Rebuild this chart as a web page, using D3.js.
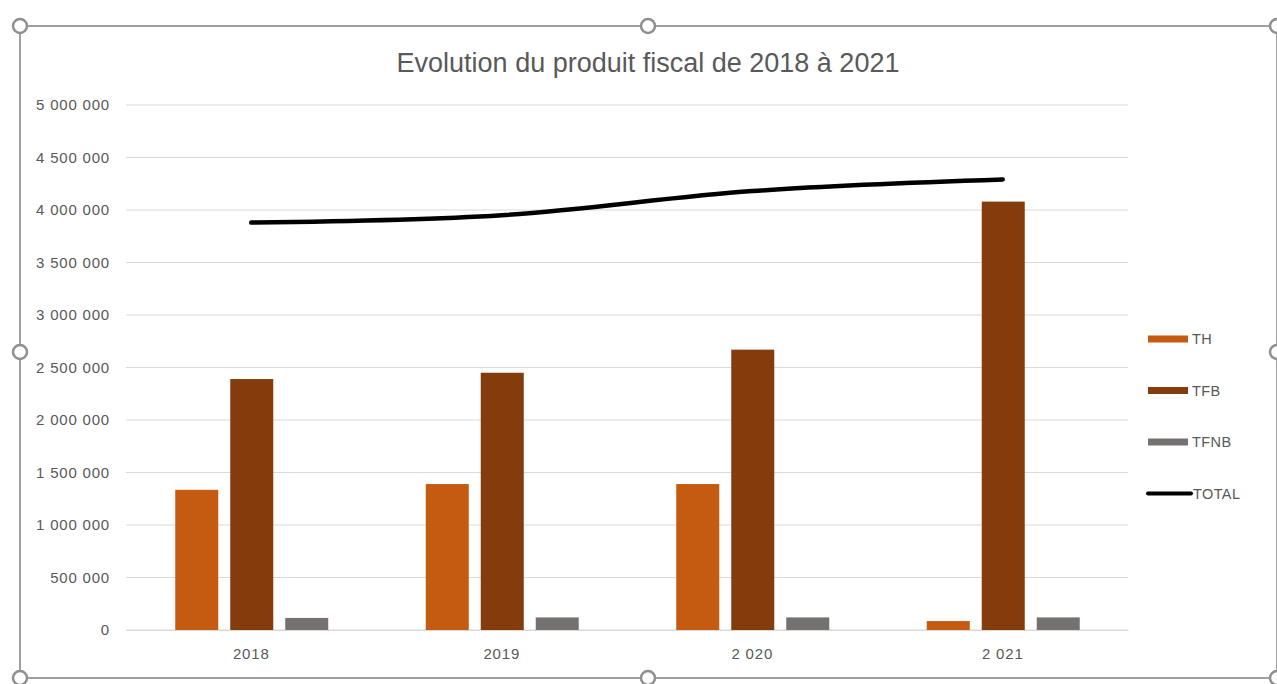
<!DOCTYPE html>
<html>
<head>
<meta charset="utf-8">
<script src="https://cdn.jsdelivr.net/npm/d3@7"></script>
<style>
  html, body { margin: 0; padding: 0; background: #fff; }
  svg { display: block; }
</style>
</head>
<body>
<svg id="chart" width="1277" height="684"></svg>
<script>
// Produit fiscal par année (en euros)
const years = ["2018", "2019", "2 020", "2 021"];
const seriesNames = ["TH", "TFB", "TFNB"];
const thValues = [1335000, 1390000, 1390000, 85000];
const tfbValues = [2390000, 2450000, 2670000, 4080000];
const tfnbValues = [115000, 120000, 120000, 120000];
const totalValues = [3880000, 3950000, 4180000, 4290000];
const yTicks = [0, 500000, 1000000, 1500000, 2000000, 2500000, 3000000, 3500000, 4000000, 4500000, 5000000];

const colors = { TH: "#c55a11", TFB: "#843c0c", TFNB: "#767171", TOTAL: "#000000" };
const textColor = "#595959";
const font = "'Liberation Sans', Arial, sans-serif";

const svg = d3.select("#chart");

// Chart frame with selection handles
const frame = { x0: 20, y0: 26, x1: 1277, y1: 678 };
svg.append("rect")
  .attr("x", frame.x0).attr("y", frame.y0)
  .attr("width", frame.x1 - frame.x0).attr("height", frame.y1 - frame.y0)
  .attr("fill", "#fff").attr("stroke", "#a0a0a0").attr("stroke-width", 2);

const plot = { left: 126, right: 1128, top: 105, bottom: 630 };

const x = d3.scaleBand().domain(years).range([plot.left, plot.right]).padding(0);
const y = d3.scaleLinear().domain([0, 5000000]).range([plot.bottom, plot.top]);
const xi = d3.scaleBand().domain(seriesNames).range([-76, 77]).paddingInner(0.218).paddingOuter(0);

const fmt = v => d3.format(",")(v).replace(/,/g, " ");

// Gridlines
svg.append("g").selectAll("line").data(yTicks).join("line")
  .attr("x1", plot.left).attr("x2", plot.right)
  .attr("y1", d => y(d)).attr("y2", d => y(d))
  .attr("stroke", "#d9d9d9").attr("stroke-width", 1);

// Y axis labels
const yAxis = svg.append("g").attr("transform", `translate(${plot.left - 16},0)`)
  .call(d3.axisLeft(y).tickValues(yTicks).tickFormat(fmt).tickSize(0).tickPadding(0));
yAxis.select(".domain").remove();
yAxis.selectAll("text").attr("fill", textColor).attr("font-size", 15)
  .attr("letter-spacing", 0.8).attr("font-family", font);

// X axis labels
const xAxis = svg.append("g").attr("transform", `translate(0,${plot.bottom})`)
  .call(d3.axisBottom(x).tickSize(0).tickPadding(18));
xAxis.select(".domain").attr("stroke", "#d9d9d9");
xAxis.selectAll("text").attr("fill", textColor).attr("font-size", 15)
  .attr("letter-spacing", 0.8).attr("font-family", font);

// Bars
const seriesData = { TH: thValues, TFB: tfbValues, TFNB: tfnbValues };
const barData = [];
years.forEach((yr, i) => seriesNames.forEach(s => barData.push({ yr, s, v: seriesData[s][i] })));
svg.append("g").selectAll("rect").data(barData).join("rect")
  .attr("x", d => x(d.yr) + x.bandwidth() / 2 + xi(d.s))
  .attr("width", xi.bandwidth())
  .attr("y", d => y(d.v))
  .attr("height", d => y(0) - y(d.v))
  .attr("fill", d => colors[d.s]);

// Total line
const line = d3.line()
  .x((d, i) => x(years[i]) + x.bandwidth() / 2)
  .y(d => y(d))
  .curve(d3.curveCatmullRom.alpha(0.5));
svg.append("path").datum(totalValues)
  .attr("d", line).attr("fill", "none")
  .attr("stroke", colors.TOTAL).attr("stroke-width", 4.5).attr("stroke-linecap", "round");

// Title
svg.append("text")
  .attr("x", 648).attr("y", 72).attr("text-anchor", "middle")
  .attr("fill", textColor).attr("font-size", 27).attr("font-family", font)
  .text("Evolution du produit fiscal de 2018 à 2021");

// Legend
const legendItems = ["TH", "TFB", "TFNB", "TOTAL"];
const legend = svg.append("g");
legendItems.forEach((name, i) => {
  const cy = 339 + i * 51.5;
  if (name === "TOTAL") {
    legend.append("line").attr("x1", 1148).attr("x2", 1191).attr("y1", cy).attr("y2", cy)
      .attr("stroke", colors.TOTAL).attr("stroke-width", 4).attr("stroke-linecap", "round");
  } else {
    legend.append("rect").attr("x", 1148).attr("y", cy - 3.5).attr("width", 40).attr("height", 7)
      .attr("fill", colors[name]);
  }
  legend.append("text").attr("x", name === "TOTAL" ? 1193 : 1192).attr("y", cy + 5)
    .attr("fill", textColor).attr("font-size", 14.5).attr("letter-spacing", 0.4).attr("font-family", font)
    .text(name);
});

// Selection handles
const handles = [
  [frame.x0, frame.y0], [648, frame.y0], [frame.x1, frame.y0],
  [frame.x0, 352], [frame.x1, 352],
  [frame.x0, frame.y1], [648, frame.y1], [frame.x1, frame.y1]
];
svg.append("g").selectAll("circle").data(handles).join("circle")
  .attr("cx", d => d[0]).attr("cy", d => d[1]).attr("r", 7)
  .attr("fill", "#fff").attr("stroke", "#8f8f8f").attr("stroke-width", 2.5);
</script>
</body>
</html>
